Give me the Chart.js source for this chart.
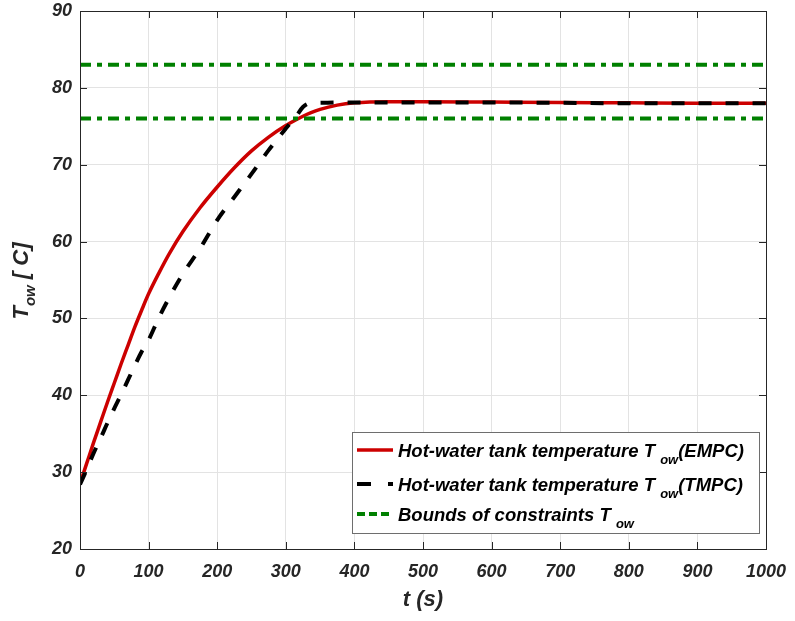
<!DOCTYPE html>
<html>
<head>
<meta charset="utf-8">
<script src="https://cdn.jsdelivr.net/npm/chart.js@4"></script>
<style>
  html, body { margin: 0; padding: 0; background: #fff; }
  #wrap { width: 795px; height: 621px; }
</style>
</head>
<body>
<div id="wrap"><canvas id="chart1" width="795" height="621"></canvas></div>
<script>
// time samples (s)
const timeS = [0, 10, 20, 30, 40, 50, 60, 70, 80, 90, 100, 115, 130, 150, 175, 200, 225, 250,
  275, 300, 315, 325, 335, 350, 375, 400, 450, 500, 600, 700, 800, 900, 1000];
// hot-water tank temperature, EMPC
const tempEMPC = [28.5, 31.2, 33.9, 36.5, 39.1, 41.6, 44.1, 46.5, 48.9, 51.1, 53.2, 55.9, 58.4, 61.3,
  64.4, 67.1, 69.6, 71.8, 73.6, 75.1, 75.85, 76.3, 76.7, 77.2, 77.75, 78.05, 78.2, 78.2, 78.15, 78.1,
  78.05, 78.0, 78.0];
// hot-water tank temperature, TMPC
const tempTMPC = [28.4, 30.4, 32.5, 34.4, 36.4, 38.3, 40.1, 42.0, 43.9, 45.7, 47.2, 50.1, 52.7, 55.8,
  59.1, 62.8, 65.8, 68.8, 71.9, 74.7, 76.3, 77.5, 78.0, 78.05, 78.1, 78.1, 78.1, 78.1, 78.1, 78.05,
  78.0, 78.0, 78.0];
// constraint bounds
const boundTime = [0, 1000];
const boundUpper = 83;
const boundLower = 76;
// axis ticks
const xTicks = [0, 100, 200, 300, 400, 500, 600, 700, 800, 900, 1000];
const yTicks = [20, 30, 40, 50, 60, 70, 80, 90];

const legendItems = [
  { pre: 'Hot-water tank temperature T ', sub: 'ow', post: '(EMPC)' },
  { pre: 'Hot-water tank temperature T ', sub: 'ow', post: '(TMPC)' },
  { pre: 'Bounds of constraints T ', sub: 'ow', post: '' }
];

const FONT = '"Liberation Sans", Arial, sans-serif';
const INK = '#262626';
const RED = '#cc0000';
const GREEN = 'rgb(0,128,0)';

const pts = (xs, ys) => xs.map((x, i) => ({ x: x, y: ys[i] }));
const flat = (xs, v) => xs.map(x => ({ x: x, y: v }));

// text with a subscript part, left aligned at (x, y) baseline
function subText(ctx, pre, sub, post, x, y, size, subSize, drop) {
  ctx.font = 'italic bold ' + size + 'px ' + FONT;
  ctx.fillText(pre, x, y);
  x += ctx.measureText(pre).width;
  ctx.font = 'italic bold ' + subSize + 'px ' + FONT;
  ctx.fillText(sub, x, y + drop);
  x += ctx.measureText(sub).width;
  ctx.font = 'italic bold ' + size + 'px ' + FONT;
  ctx.fillText(post, x, y);
  return x + ctx.measureText(post).width;
}

function textWidth(ctx, pre, sub, post, size, subSize) {
  ctx.font = 'italic bold ' + size + 'px ' + FONT;
  let w = ctx.measureText(pre).width + ctx.measureText(post).width;
  ctx.font = 'italic bold ' + subSize + 'px ' + FONT;
  return w + ctx.measureText(sub).width;
}

// no extra room for overflowing tick labels, the plot box is fixed by layout padding
function noPad(s) {
  s.paddingLeft = 0; s.paddingRight = 0; s.paddingTop = 0; s.paddingBottom = 0;
}

const frame = {
  id: 'frame',
  afterDatasetsDraw(chart) {
    const ctx = chart.ctx;
    const a = chart.chartArea;
    const xs = chart.scales.x, ys = chart.scales.y;
    ctx.save();
    ctx.strokeStyle = INK;
    ctx.lineWidth = 1;
    ctx.strokeRect(Math.round(a.left) + 0.5, Math.round(a.top) + 0.5,
      Math.round(a.right - a.left), Math.round(a.bottom - a.top));
    // inward ticks on all four sides
    const tl = 7;
    ctx.beginPath();
    xTicks.forEach(v => {
      const px = Math.round(xs.getPixelForValue(v)) + 0.5;
      ctx.moveTo(px, a.bottom); ctx.lineTo(px, a.bottom - tl);
      ctx.moveTo(px, a.top); ctx.lineTo(px, a.top + tl);
    });
    yTicks.forEach(v => {
      const py = Math.round(ys.getPixelForValue(v)) + 0.5;
      ctx.moveTo(a.left, py); ctx.lineTo(a.left + tl, py);
      ctx.moveTo(a.right, py); ctx.lineTo(a.right - tl, py);
    });
    ctx.stroke();
    ctx.restore();
  },
  afterDraw(chart) {
    const ctx = chart.ctx;
    const a = chart.chartArea;
    ctx.save();
    ctx.fillStyle = INK;
    ctx.textBaseline = 'alphabetic';

    // x axis title
    ctx.font = 'italic bold 22px ' + FONT;
    ctx.textAlign = 'center';
    ctx.fillText('t (s)', (a.left + a.right) / 2, 606);

    // y axis title, rotated
    ctx.save();
    ctx.translate(28, 281);
    ctx.rotate(-Math.PI / 2);
    ctx.textAlign = 'left';
    const tw = textWidth(ctx, 'T', 'ow', ' [ C]', 22, 15);
    subText(ctx, 'T', 'ow', ' [ C]', -tw / 2, 0, 22, 15, 7);
    ctx.restore();

    // legend
    const bx = 352.5, by = 432.5, bw = 407, bh = 101;
    ctx.fillStyle = '#fff';
    ctx.fillRect(bx, by, bw, bh);
    ctx.strokeStyle = '#6e6e6e';
    ctx.lineWidth = 1;
    ctx.strokeRect(bx, by, bw, bh);

    const rows = [450, 484, 514];
    const dss = chart.data.datasets;
    rows.forEach((ry, i) => {
      const ds = dss[i];
      ctx.save();
      ctx.strokeStyle = ds.borderColor;
      ctx.lineWidth = ds.borderWidth;
      ctx.setLineDash(i === 1 ? [14, 17] : (i === 2 ? [8, 4, 8, 4] : []));
      ctx.beginPath();
      ctx.moveTo(357, ry);
      ctx.lineTo(393, ry);
      ctx.stroke();
      ctx.restore();
      ctx.fillStyle = '#000';
      ctx.textAlign = 'left';
      const it = legendItems[i];
      subText(ctx, it.pre, it.sub, it.post, 398, ry + 7, 18.5, 13, 7);
    });
    ctx.restore();
  }
};

const tickFont = { family: FONT, size: 18, weight: 'bold', style: 'italic' };

const config1 = {
  type: 'line',
  data: {
    datasets: [
      {
        label: 'EMPC',
        data: pts(timeS, tempEMPC),
        borderColor: RED,
        borderWidth: 3.5,
        pointRadius: 0,
        cubicInterpolationMode: 'monotone',
        order: 3
      },
      {
        label: 'TMPC',
        data: pts(timeS, tempTMPC),
        borderColor: '#000',
        borderWidth: 4,
        borderDash: [13, 14],
        pointRadius: 0,
        cubicInterpolationMode: 'monotone',
        order: 1
      },
      {
        label: 'Bounds upper',
        data: flat(boundTime, boundUpper),
        borderColor: GREEN,
        borderWidth: 4,
        borderDash: [11, 6, 5, 6],
        pointRadius: 0,
        order: 2
      },
      {
        label: 'Bounds lower',
        data: flat(boundTime, boundLower),
        borderColor: GREEN,
        borderWidth: 4,
        borderDash: [11, 6, 5, 6],
        pointRadius: 0,
        order: 2
      }
    ]
  },
  options: {
    responsive: false,
    animation: false,
    layout: { padding: { top: 11, right: 29, left: 0, bottom: 0 } },
    plugins: {
      legend: { display: false },
      tooltip: { enabled: false }
    },
    scales: {
      x: {
        type: 'linear',
        min: 0,
        max: 1000,
        afterFit: s => { s.height = 72; noPad(s); },
        afterBuildTicks: s => { s.ticks = xTicks.map(v => ({ value: v })); },
        grid: { color: '#e3e3e3', drawTicks: false },
        border: { display: false },
        ticks: {
          padding: 12,
          color: INK,
          maxRotation: 0,
          callback: v => String(v),
          font: tickFont
        }
      },
      y: {
        min: 20,
        max: 90,
        afterFit: s => { s.width = 80; noPad(s); },
        afterBuildTicks: s => { s.ticks = yTicks.map(v => ({ value: v })); },
        grid: { color: '#e3e3e3', drawTicks: false },
        border: { display: false },
        ticks: {
          padding: 8,
          color: INK,
          callback: v => String(v),
          font: tickFont
        }
      }
    }
  },
  plugins: [frame]
};

var ctx1 = document.getElementById('chart1').getContext('2d');
var myChart1 = new Chart(ctx1, config1);
</script>
</body>
</html>
